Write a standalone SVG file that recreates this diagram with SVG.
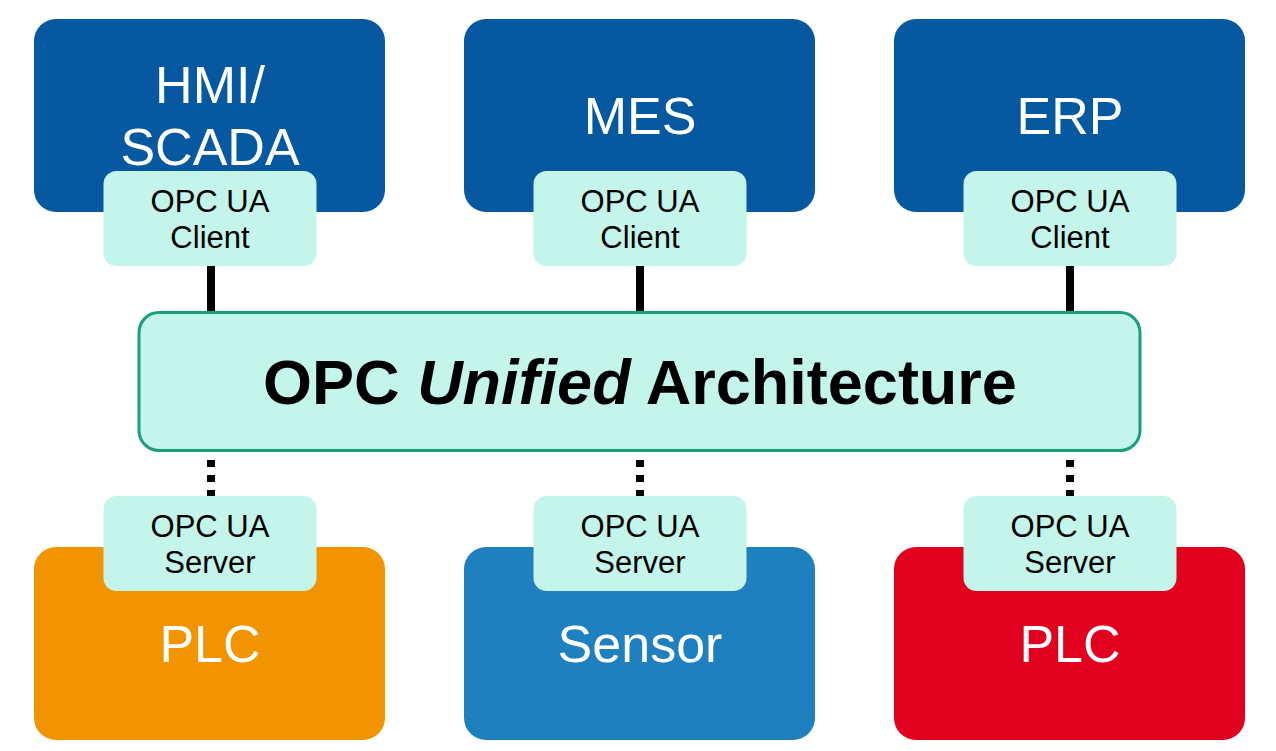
<svg xmlns="http://www.w3.org/2000/svg" width="1276" height="751" viewBox="0 0 1276 751">
<style>
.big{font-family:"Liberation Sans",Arial,sans-serif;font-size:52px;fill:#fff;text-anchor:middle}
.small{font-family:"Liberation Sans",Arial,sans-serif;font-size:31px;fill:#000;text-anchor:middle}
.tag{fill:#C4F5EA}
.solid{stroke:#000;stroke-width:8;fill:none}
.dot{stroke:#000;stroke-width:8;fill:none;stroke-dasharray:7 8}
</style>
<rect width="1276" height="751" fill="#fff"/>
<g id="connectors">
<line class="solid" x1="211" y1="264" x2="211" y2="312"/>
<line class="solid" x1="640" y1="264" x2="640" y2="312"/>
<line class="solid" x1="1070" y1="264" x2="1070" y2="312"/>
<line class="dot" x1="211" y1="460" x2="211" y2="498"/>
<line class="dot" x1="640" y1="460" x2="640" y2="498"/>
<line class="dot" x1="1070" y1="460" x2="1070" y2="498"/>
</g>
<g id="hmi">
<rect x="34" y="19" width="351" height="193" rx="22" fill="#0659A0"/>
<text class="big" x="210" y="103">HMI/</text>
<text class="big" x="210" y="165">SCADA</text>
</g>
<g id="mes">
<rect x="464" y="19" width="351" height="193" rx="22" fill="#0659A0"/>
<text class="big" x="640" y="134">MES</text>
</g>
<g id="erp">
<rect x="894" y="19" width="351" height="193" rx="22" fill="#0659A0"/>
<text class="big" x="1070" y="134">ERP</text>
</g>
<g id="client1">
<rect class="tag" x="103.5" y="171" width="213" height="95" rx="13"/>
<text class="small" x="210" y="212">OPC UA</text>
<text class="small" x="210" y="248">Client</text>
</g>
<g id="client2">
<rect class="tag" x="533.5" y="171" width="213" height="95" rx="13"/>
<text class="small" x="640" y="212">OPC UA</text>
<text class="small" x="640" y="248">Client</text>
</g>
<g id="client3">
<rect class="tag" x="963.5" y="171" width="213" height="95" rx="13"/>
<text class="small" x="1070" y="212">OPC UA</text>
<text class="small" x="1070" y="248">Client</text>
</g>
<g id="opcua">
<rect x="139" y="312.5" width="1001" height="138" rx="20" fill="#C4F5EA" stroke="#1A9E7D" stroke-width="3"/>
<text x="640" y="404" font-family="'Liberation Sans',Arial,sans-serif" font-size="63" font-weight="bold" text-anchor="middle" fill="#000">OPC <tspan font-style="italic">Unified</tspan> Architecture</text>
</g>
<g id="plc1">
<rect x="34" y="547" width="351" height="193" rx="22" fill="#F29400"/>
<text class="big" x="210" y="662">PLC</text>
</g>
<g id="sensor">
<rect x="464" y="547" width="351" height="193" rx="22" fill="#1F80C0"/>
<text class="big" x="640" y="662">Sensor</text>
</g>
<g id="plc2">
<rect x="894" y="547" width="351" height="193" rx="22" fill="#E2001F"/>
<text class="big" x="1070" y="662">PLC</text>
</g>
<g id="server1">
<rect class="tag" x="103.5" y="496" width="213" height="95" rx="13"/>
<text class="small" x="210" y="537">OPC UA</text>
<text class="small" x="210" y="573">Server</text>
</g>
<g id="server2">
<rect class="tag" x="533.5" y="496" width="213" height="95" rx="13"/>
<text class="small" x="640" y="537">OPC UA</text>
<text class="small" x="640" y="573">Server</text>
</g>
<g id="server3">
<rect class="tag" x="963.5" y="496" width="213" height="95" rx="13"/>
<text class="small" x="1070" y="537">OPC UA</text>
<text class="small" x="1070" y="573">Server</text>
</g>
</svg>
